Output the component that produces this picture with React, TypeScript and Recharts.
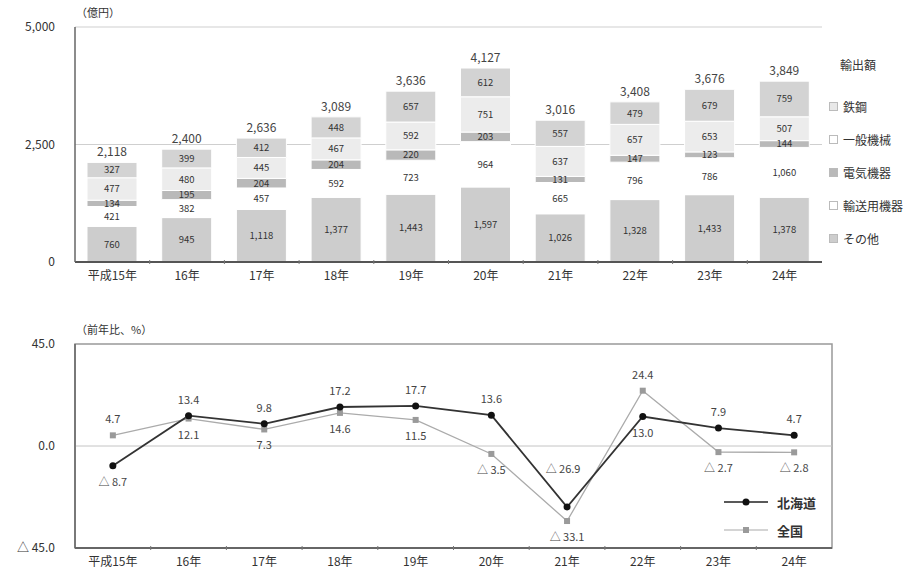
import {
  BarChart, Bar, LineChart, Line, XAxis, YAxis, CartesianGrid, LabelList,
  ReferenceLine, ReferenceArea,
} from 'recharts'

const years = ['平成15年', '16年', '17年', '18年', '19年', '20年', '21年', '22年', '23年', '24年']

// 輸出額（億円）品目別
const steel = [327, 399, 412, 448, 657, 612, 557, 479, 679, 759]
const machinery = [477, 480, 445, 467, 592, 751, 637, 657, 653, 507]
const electrical = [134, 195, 204, 204, 220, 203, 131, 147, 123, 144]
const transport = [421, 382, 457, 592, 723, 964, 665, 796, 786, 1060]
const others = [760, 945, 1118, 1377, 1443, 1597, 1026, 1328, 1433, 1378]
const totals = [2118, 2400, 2636, 3089, 3636, 4127, 3016, 3408, 3676, 3849]

// 前年比（%）
const hokkaido = [-8.7, 13.4, 9.8, 17.2, 17.7, 13.6, -26.9, 13.0, 7.9, 4.7]
const national = [4.7, 12.1, 7.3, 14.6, 11.5, -3.5, -33.1, 24.4, -2.7, -2.8]

const barTicks = [0, 2500, 5000]
const pctTicks = [-45, 0, 45]

const FONT = '"Noto Sans CJK JP", "Noto Sans", sans-serif'
const TEXT = '#333'

const barData = years.map((year, i) => ({
  year,
  others: others[i],
  transport: transport[i],
  electrical: electrical[i],
  machinery: machinery[i],
  steel: steel[i],
  total: totals[i],
}))

const lineData = years.map((year, i) => ({ year, hokkaido: hokkaido[i], national: national[i] }))

// stack order bottom -> top
const stack = [
  { key: 'others', name: 'その他', fill: '#cdcdcd', box: '#cdcdcd' },
  { key: 'transport', name: '輸送用機器', fill: '#ffffff', box: '#ffffff' },
  { key: 'electrical', name: '電気機器', fill: '#b9b9b9', box: '#b9b9b9' },
  { key: 'machinery', name: '一般機械', fill: '#ececec', box: '#ffffff' },
  { key: 'steel', name: '鉄鋼', fill: '#d3d3d3', box: '#e8e8e8' },
]

const fmtInt = (v: number) => v.toLocaleString('en-US')
const fmtPct = (v: number) => (v < 0 ? `△ ${Math.abs(v).toFixed(1)}` : v.toFixed(1))

const PLOT_L = 75
const TOP_R = 822
const BOT_R = 832

function XTick(props: any) {
  const { x, y, payload, index, step } = props
  return (
    <g>
      <text x={x} y={y + 16} textAnchor="middle" fontSize={12} fill={TEXT} fontFamily={FONT}>
        {payload.value}
      </text>
      {index < years.length - 1 && (
        <line x1={x + step / 2} x2={x + step / 2} y1={y - 4} y2={y} stroke="#777" strokeWidth={1} />
      )}
    </g>
  )
}

function SquareDot(props: any) {
  const { cx, cy } = props
  if (cx == null || cy == null) return null
  return <rect x={cx - 3} y={cy - 3} width={6} height={6} fill="#9a9a9a" />
}

function BlackDot(props: any) {
  const { cx, cy } = props
  if (cx == null || cy == null) return null
  return <circle cx={cx} cy={cy} r={3.5} fill="#111" />
}

// label goes on the side facing away from the other series;
// above a deep dip it is lifted clear of the two line segments
function pctLabel(own: number[], other: number[]) {
  return (props: any) => {
    const { x, y, index } = props
    const v = own[index]
    const above = v >= other[index]
    const prev = own[index - 1]
    const next = own[index + 1]
    const deepDip = above && prev != null && next != null && prev - v > 15 && next - v > 15
    const ty = above ? (deepDip ? y - 34 : y - 12) : y + 20
    return (
      <text x={deepDip ? x - 4 : x} y={ty} textAnchor="middle" fontSize={11} fill="#444" fontFamily={FONT}>
        {fmtPct(v)}
      </text>
    )
  }
}

function LineLegend() {
  const rows = [
    { name: '北海道', color: '#222', width: 1.6, dot: <circle cx={22} cy={0} r={3.5} fill="#111" /> },
    { name: '全国', color: '#aaa', width: 1.2, dot: <rect x={19} y={-3} width={6} height={6} fill="#9a9a9a" /> },
  ]
  return (
    <div style={{ fontFamily: FONT }}>
      {rows.map((r) => (
        <div key={r.name} style={{ display: 'flex', alignItems: 'center', height: 28 }}>
          <svg width={46} height={10} style={{ overflow: 'visible' }}>
            <g transform="translate(0,5)">
              <line x1={0} x2={44} y1={0} y2={0} stroke={r.color} strokeWidth={r.width} />
              {r.dot}
            </g>
          </svg>
          <span style={{ fontSize: 13, color: TEXT, marginLeft: 7, fontWeight: 600 }}>{r.name}</span>
        </div>
      ))}
    </div>
  )
}

export default function App() {
  const topStep = (TOP_R - PLOT_L) / years.length
  const botStep = (BOT_R - PLOT_L) / years.length
  return (
    <div style={{ position: 'absolute', left: 0, top: 0, width: 922, height: 579, background: '#fff', fontFamily: FONT }}>
      <div style={{ position: 'absolute', left: 76, top: 4, fontSize: 11, color: TEXT }}>（億円）</div>
      <div style={{ position: 'absolute', left: 76, top: 321, fontSize: 11, color: TEXT }}>（前年比、%）</div>

      {/* 品目別凡例 */}
      <div style={{ position: 'absolute', left: 829, top: 56, fontSize: 12, color: TEXT }}>
        <div style={{ marginLeft: 11, height: 34 }}>輸出額</div>
        {[...stack].reverse().map((s) => (
          <div key={s.key} style={{ display: 'flex', alignItems: 'center', height: 33 }}>
            <span style={{ width: 7, height: 7, background: s.box, border: '1px solid #bbb', marginRight: 5 }} />
            <span>{s.name}</span>
          </div>
        ))}
      </div>

      <div style={{ position: 'absolute', left: 0, top: 0 }}>
        <BarChart width={922} height={300} data={barData} margin={{ top: 27, right: 922 - TOP_R, bottom: 8, left: 15 }} barSize={50}>
          <CartesianGrid vertical={false} stroke="#cfcfcf" />
          <XAxis
            dataKey="year"
            tickLine={false}
            tickSize={0}
            height={30}
            axisLine={{ stroke: '#555', strokeWidth: 2 }}
            interval={0}
            tick={<XTick step={topStep} />}
          />
          <YAxis
            domain={[0, 5000]}
            ticks={barTicks}
            width={60}
            tickLine={false}
            tickMargin={14}
            axisLine={{ stroke: '#666', strokeWidth: 1.5 }}
            tickFormatter={fmtInt}
            tick={{ fontSize: 12, fill: TEXT, fontFamily: FONT }}
          />
          {stack.map((s, i) => (
            <Bar key={s.key} dataKey={s.key} stackId="a" fill={s.fill} stroke="#fff" strokeWidth={1} isAnimationActive={false}>
              <LabelList dataKey={s.key} position="center" fontSize={9.5} fill="#333" fontFamily={FONT} formatter={(v: any) => fmtInt(Number(v))} />
              {i === stack.length - 1 && (
                <LabelList dataKey="total" position="top" offset={6} fontSize={12} fill="#444" fontFamily={FONT} formatter={(v: any) => fmtInt(Number(v))} />
              )}
            </Bar>
          ))}
        </BarChart>
      </div>

      <div style={{ position: 'absolute', left: 0, top: 300 }}>
        <LineChart width={922} height={279} data={lineData} margin={{ top: 44, right: 922 - BOT_R, bottom: 1, left: 15 }}>
          <ReferenceArea y1={-45} y2={45} fill="none" stroke="#999" strokeWidth={1.5} />
          <ReferenceLine y={0} stroke="#c4c4c4" strokeWidth={1} />
          <XAxis
            dataKey="year"
            scale="band"
            tickLine={false}
            tickSize={0}
            height={30}
            axisLine={{ stroke: '#666', strokeWidth: 2 }}
            interval={0}
            tick={<XTick step={botStep} />}
          />
          <YAxis
            domain={[-45, 45]}
            ticks={pctTicks}
            width={60}
            tickLine={false}
            tickMargin={14}
            axisLine={{ stroke: '#666', strokeWidth: 1.5 }}
            tickFormatter={fmtPct}
            tick={{ fontSize: 12, fill: TEXT, fontFamily: FONT }}
          />
          <Line
            dataKey="national"
            stroke="#ababab"
            strokeWidth={1.3}
            dot={<SquareDot />}
            isAnimationActive={false}
            label={pctLabel(national, hokkaido)}
          />
          <Line
            dataKey="hokkaido"
            stroke="#333"
            strokeWidth={1.8}
            dot={<BlackDot />}
            isAnimationActive={false}
            label={pctLabel(hokkaido, national)}
          />
        </LineChart>
      </div>

      <div style={{ position: 'absolute', left: 724, top: 488 }}>
        <LineLegend />
      </div>
    </div>
  )
}
